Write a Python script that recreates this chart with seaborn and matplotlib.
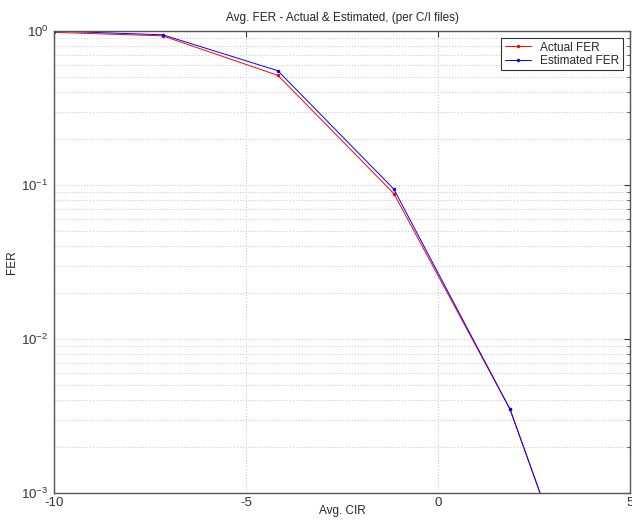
#import modules
import pandas as pd
import numpy as np
import seaborn as sns
import matplotlib.pyplot as plt
from matplotlib.ticker import LogLocator, NullFormatter

#data
cir = [-10, -7.17, -4.17, -1.15, 1.875, 4.85]
actual_fer = [0.98, 0.93, 0.515, 0.088, 0.0035, 3e-5]
estimated_fer = [1.0, 0.945, 0.552, 0.094, 0.0035, 3e-5]
series_names = ["Actual FER", "Estimated FER"]

#long form table for seaborn
df = pd.DataFrame({
    "cir": cir + cir,
    "fer": actual_fer + estimated_fer,
    "series": [series_names[0]] * len(cir) + [series_names[1]] * len(cir),
})

sns.set_style("white")
plt.rcParams["font.family"] = ["Liberation Sans", "DejaVu Sans"]
plt.rcParams["mathtext.default"] = "regular"
plt.rcParams["axes.unicode_minus"] = False

fig = plt.figure(figsize=(6.32, 5.20), dpi=100)
ax = fig.add_axes([54 / 632, (520 - 493) / 520, (630 - 54) / 632, (493 - 31) / 520])

sns.lineplot(data=df, x="cir", y="fer", hue="series", hue_order=series_names,
             palette={"Actual FER": "red", "Estimated FER": "blue"},
             marker=".", markersize=5, markeredgewidth=0, linewidth=0.7, ax=ax)

ax.set_yscale("log")
ax.set_xlim(-10, 5)
ax.set_ylim(1e-3, 1)
ax.set_xticks([-10, -5, 0, 5])
ax.yaxis.set_major_locator(LogLocator(base=10, numticks=10))
ax.yaxis.set_minor_locator(LogLocator(base=10, subs=np.arange(2, 10), numticks=10))
ax.yaxis.set_minor_formatter(NullFormatter())

#matlab style grid and ticks
ax.grid(True, which="major", color="#cccccc", linestyle=":", linewidth=0.8)
ax.grid(True, which="minor", axis="y", color="#cccccc", linestyle=":", linewidth=0.8)
ax.tick_params(which="both", direction="in", top=True, right=True, labelsize=9.5, colors="#333333")
ax.tick_params(which="major", length=4)
ax.tick_params(which="minor", length=2)
ax.tick_params(axis="x", which="major", pad=3)
ax.tick_params(axis="y", which="major", pad=4)
for s in ax.spines.values():
    s.set_color("#555555")
    s.set_linewidth(1.0)

ax.set_title("Avg. FER - Actual & Estimated, (per C/I files)", fontsize=8.5, pad=7)
ax.set_xlabel("Avg. CIR", fontsize=8.5)
ax.set_ylabel("FER", fontsize=8.5)
ax.xaxis.set_label_coords(0.5, -0.026)
ax.yaxis.set_label_coords(-0.062, 0.5)

leg = ax.legend(loc="upper right", fontsize=8.5, frameon=True, fancybox=False,
                edgecolor="#333333", framealpha=1, borderaxespad=0.6,
                handlelength=2.2, borderpad=0.3, labelspacing=0.1)
leg.get_frame().set_linewidth(0.8)

plt.savefig("out.png", dpi=100)
plt.close()
